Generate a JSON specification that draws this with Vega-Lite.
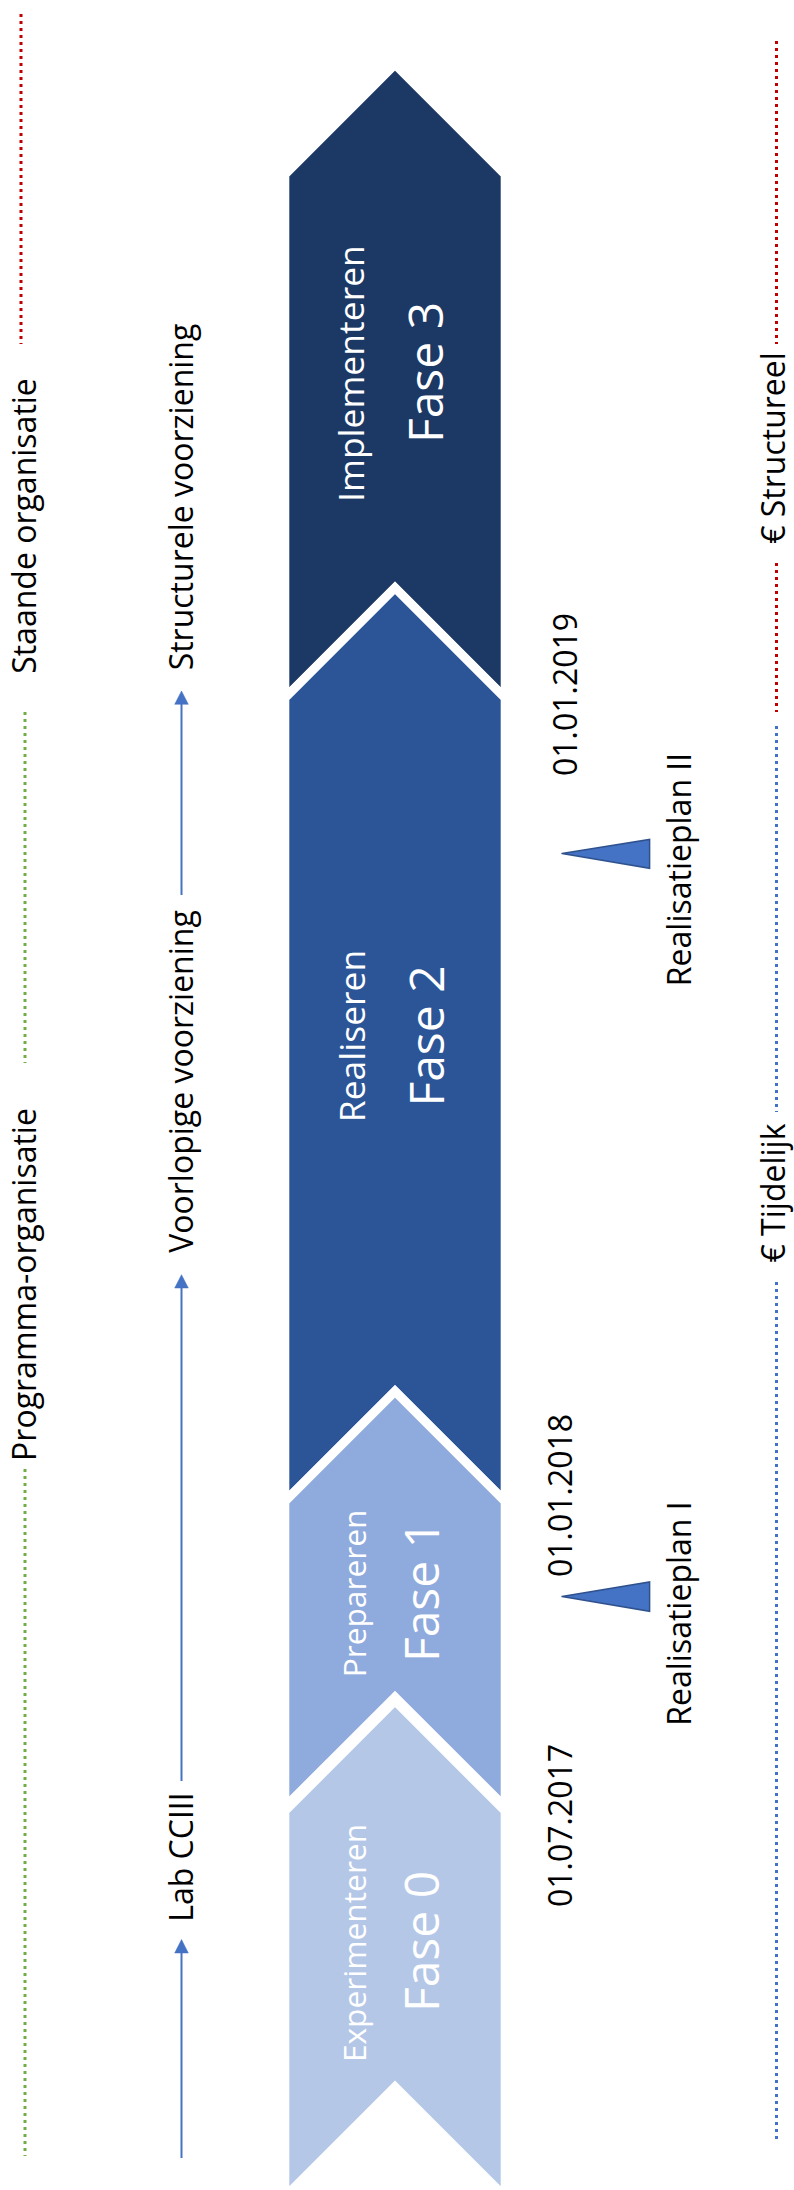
{
  "$schema": "https://vega.github.io/schema/vega-lite/v6.json",
  "width": 794,
  "height": 2190,
  "padding": 0,
  "autosize": {"type": "none"},
  "background": "#ffffff",
  "config": {"view": {"stroke": null}},
  "datasets": {
    "vormen": [
      {"fase": "Fase 3", "punt": 1, "x": 284.8, "y": 436},
      {"fase": "Fase 3", "punt": 2, "x": 284.8, "y": 174.5},
      {"fase": "Fase 3", "punt": 3, "x": 395, "y": 64.3},
      {"fase": "Fase 3", "punt": 4, "x": 505.2, "y": 174.5},
      {"fase": "Fase 3", "punt": 5, "x": 505.2, "y": 698.1},
      {"fase": "Fase 3", "punt": 6, "x": 395, "y": 587.9},
      {"fase": "Fase 3", "punt": 7, "x": 284.8, "y": 698.1},
      {"fase": "Fase 3", "punt": 8, "x": 284.8, "y": 436},
      {"fase": "Fase 2", "punt": 1, "x": 284.8, "y": 1100},
      {"fase": "Fase 2", "punt": 2, "x": 284.8, "y": 698.1},
      {"fase": "Fase 2", "punt": 3, "x": 395, "y": 587.9},
      {"fase": "Fase 2", "punt": 4, "x": 505.2, "y": 698.1},
      {"fase": "Fase 2", "punt": 5, "x": 505.2, "y": 1501.5},
      {"fase": "Fase 2", "punt": 6, "x": 395, "y": 1391.3},
      {"fase": "Fase 2", "punt": 7, "x": 284.8, "y": 1501.5},
      {"fase": "Fase 2", "punt": 8, "x": 284.8, "y": 1100},
      {"fase": "Fase 1", "punt": 1, "x": 284.8, "y": 1650},
      {"fase": "Fase 1", "punt": 2, "x": 284.8, "y": 1501.5},
      {"fase": "Fase 1", "punt": 3, "x": 395, "y": 1391.3},
      {"fase": "Fase 1", "punt": 4, "x": 505.2, "y": 1501.5},
      {"fase": "Fase 1", "punt": 5, "x": 505.2, "y": 1807.2},
      {"fase": "Fase 1", "punt": 6, "x": 395, "y": 1697},
      {"fase": "Fase 1", "punt": 7, "x": 284.8, "y": 1807.2},
      {"fase": "Fase 1", "punt": 8, "x": 284.8, "y": 1650},
      {"fase": "Fase 0", "punt": 1, "x": 284.8, "y": 2000},
      {"fase": "Fase 0", "punt": 2, "x": 284.8, "y": 1811.1},
      {"fase": "Fase 0", "punt": 3, "x": 395, "y": 1700.9},
      {"fase": "Fase 0", "punt": 4, "x": 505.2, "y": 1811.1},
      {"fase": "Fase 0", "punt": 5, "x": 505.2, "y": 2197},
      {"fase": "Fase 0", "punt": 6, "x": 395, "y": 2086.8},
      {"fase": "Fase 0", "punt": 7, "x": 284.8, "y": 2197},
      {"fase": "Fase 0", "punt": 8, "x": 284.8, "y": 2000}
    ],
    "pijlpunten": [
      {"pijl": "Structurele voorziening", "punt": 1, "x": 181.5, "y": 691},
      {"pijl": "Structurele voorziening", "punt": 2, "x": 188.3, "y": 704.3},
      {"pijl": "Structurele voorziening", "punt": 3, "x": 174.7, "y": 704.3},
      {"pijl": "Structurele voorziening", "punt": 4, "x": 181.5, "y": 691},
      {"pijl": "Voorlopige voorziening", "punt": 1, "x": 181.5, "y": 1274.7},
      {"pijl": "Voorlopige voorziening", "punt": 2, "x": 188.3, "y": 1288},
      {"pijl": "Voorlopige voorziening", "punt": 3, "x": 174.7, "y": 1288},
      {"pijl": "Voorlopige voorziening", "punt": 4, "x": 181.5, "y": 1274.7},
      {"pijl": "Lab CCIII", "punt": 1, "x": 181.5, "y": 1939.5},
      {"pijl": "Lab CCIII", "punt": 2, "x": 188.3, "y": 1953},
      {"pijl": "Lab CCIII", "punt": 3, "x": 174.7, "y": 1953},
      {"pijl": "Lab CCIII", "punt": 4, "x": 181.5, "y": 1939.5}
    ],
    "mijlpalen": [
      {"mijlpaal": "Realisatieplan II", "punt": 1, "x": 562, "y": 853.4},
      {"mijlpaal": "Realisatieplan II", "punt": 2, "x": 649.6, "y": 839.4},
      {"mijlpaal": "Realisatieplan II", "punt": 3, "x": 649.6, "y": 868.3},
      {"mijlpaal": "Realisatieplan II", "punt": 4, "x": 562, "y": 853.4},
      {"mijlpaal": "Realisatieplan I", "punt": 1, "x": 562, "y": 1596.4},
      {"mijlpaal": "Realisatieplan I", "punt": 2, "x": 649.6, "y": 1582},
      {"mijlpaal": "Realisatieplan I", "punt": 3, "x": 649.6, "y": 1611.3},
      {"mijlpaal": "Realisatieplan I", "punt": 4, "x": 562, "y": 1596.4}
    ],
    "lijnen": [
      {"naar": "Structurele voorziening", "x": 181.5, "y": 703, "y_eind": 895},
      {"naar": "Voorlopige voorziening", "x": 181.5, "y": 1287, "y_eind": 1781},
      {"naar": "Lab CCIII", "x": 181.5, "y": 1952, "y_eind": 2158}
    ],
    "stippellijnen": [
      {"lijn": "Staande organisatie", "x": 21, "y": 14, "y_eind": 344},
      {"lijn": "Programma-organisatie", "x": 25, "y": 712, "y_eind": 1063},
      {"lijn": "Programma-organisatie", "x": 25, "y": 1469, "y_eind": 2156},
      {"lijn": "€ Structureel", "x": 776.5, "y": 41, "y_eind": 344},
      {"lijn": "€ Structureel", "x": 776.5, "y": 563, "y_eind": 712},
      {"lijn": "€ Tijdelijk", "x": 776.5, "y": 726, "y_eind": 1112},
      {"lijn": "€ Tijdelijk", "x": 776.5, "y": 1282, "y_eind": 2140}
    ],
    "teksten": [
      {"tekst": "Staande organisatie", "rol": "organisatie", "x": 26, "y": 526},
      {"tekst": "Programma-organisatie", "rol": "organisatie", "x": 26, "y": 1284.5},
      {"tekst": "Structurele voorziening", "rol": "voorziening", "x": 183, "y": 497},
      {"tekst": "Voorlopige voorziening", "rol": "voorziening", "x": 183, "y": 1081.5},
      {"tekst": "Lab CCIII", "rol": "voorziening", "x": 183, "y": 1857},
      {"tekst": "01.01.2019", "rol": "datum", "x": 567, "y": 694.5},
      {"tekst": "01.01.2018", "rol": "datum", "x": 562, "y": 1495.5},
      {"tekst": "01.07.2017", "rol": "datum", "x": 562, "y": 1825.5},
      {"tekst": "Realisatieplan II", "rol": "mijlpaal", "x": 680.5, "y": 869.5},
      {"tekst": "Realisatieplan I", "rol": "mijlpaal", "x": 680.5, "y": 1613.5},
      {"tekst": "€ Structureel", "rol": "financiering", "x": 775, "y": 448},
      {"tekst": "€ Tijdelijk", "rol": "financiering", "x": 775, "y": 1193},
      {"tekst": "Implementeren", "rol": "activiteit", "x": 353, "y": 373.5},
      {"tekst": "Realiseren", "rol": "activiteit", "x": 354, "y": 1036},
      {"tekst": "Prepareren", "rol": "activiteit", "x": 355.5, "y": 1593.5},
      {"tekst": "Experimenteren", "rol": "activiteit", "x": 355.5, "y": 1943},
      {"tekst": "Fase 3", "rol": "fase", "x": 429, "y": 372.5},
      {"tekst": "Fase 2", "rol": "fase", "x": 429.5, "y": 1036},
      {"tekst": "Fase 1", "rol": "fase", "x": 425, "y": 1591.5},
      {"tekst": "Fase 0", "rol": "fase", "x": 425, "y": 1941.5}
    ]
  },
  "encoding": {
    "x": {"field": "x", "type": "quantitative", "scale": {"domain": [0, 794], "nice": false, "zero": false}, "axis": null},
    "y": {"field": "y", "type": "quantitative", "scale": {"domain": [0, 2190], "nice": false, "zero": false, "reverse": true}, "axis": null}
  },
  "layer": [
    {
      "data": {"name": "stippellijnen"},
      "mark": {"type": "rule", "strokeWidth": 3, "strokeDash": [3, 4], "strokeCap": "butt"},
      "encoding": {
        "y2": {"field": "y_eind"},
        "color": {"field": "lijn", "type": "nominal", "legend": null,
          "scale": {"domain": ["Staande organisatie", "Programma-organisatie", "€ Structureel", "€ Tijdelijk"],
                    "range": ["#C00000", "#70AD47", "#C00000", "#4472C4"]}}
      }
    },
    {
      "data": {"name": "lijnen"},
      "mark": {"type": "rule", "strokeWidth": 2, "color": "#4472C4"},
      "encoding": {"y2": {"field": "y_eind"}}
    },
    {
      "data": {"name": "pijlpunten"},
      "mark": {"type": "line", "fill": "#4472C4", "stroke": "#4472C4", "strokeWidth": 0.5, "strokeJoin": "miter"},
      "encoding": {
        "detail": {"field": "pijl", "type": "nominal"},
        "order": {"field": "punt", "type": "quantitative"}
      }
    },
    {
      "data": {"name": "vormen"},
      "mark": {"type": "line", "stroke": "#ffffff", "strokeWidth": 9, "strokeJoin": "miter", "strokeMiterLimit": 10},
      "encoding": {
        "fill": {"field": "fase", "type": "nominal", "legend": null,
          "scale": {"domain": ["Fase 3", "Fase 2", "Fase 1", "Fase 0"],
                    "range": ["#1C3864", "#2B5597", "#8FAADC", "#B4C7E7"]}},
        "detail": {"field": "fase", "type": "nominal"},
        "order": {"field": "punt", "type": "quantitative"}
      }
    },
    {
      "data": {"name": "mijlpalen"},
      "mark": {"type": "line", "fill": "#4472C4", "stroke": "#2F528F", "strokeWidth": 1.5, "strokeJoin": "miter", "strokeCap": "round"},
      "encoding": {
        "detail": {"field": "mijlpaal", "type": "nominal"},
        "order": {"field": "punt", "type": "quantitative"}
      }
    },
    {
      "data": {"name": "teksten"},
      "transform": [{"filter": {"field": "rol", "oneOf": ["organisatie", "voorziening", "datum", "mijlpaal", "financiering"]}}],
      "mark": {"type": "text", "angle": 270, "align": "center", "baseline": "middle", "font": "Open Sans", "fontSize": 32, "color": "#000000"},
      "encoding": {"text": {"field": "tekst"}}
    },
    {
      "data": {"name": "teksten"},
      "transform": [{"filter": {"field": "tekst", "oneOf": ["Implementeren", "Realiseren"]}}],
      "mark": {"type": "text", "angle": 270, "align": "center", "baseline": "middle", "font": "Open Sans", "fontSize": 35.5, "color": "#ffffff"},
      "encoding": {"text": {"field": "tekst"}}
    },
    {
      "data": {"name": "teksten"},
      "transform": [{"filter": {"field": "tekst", "oneOf": ["Prepareren", "Experimenteren"]}}],
      "mark": {"type": "text", "angle": 270, "align": "center", "baseline": "middle", "font": "Open Sans", "fontSize": 31.7, "color": "#ffffff"},
      "encoding": {"text": {"field": "tekst"}}
    },
    {
      "data": {"name": "teksten"},
      "transform": [{"filter": {"field": "rol", "equal": "fase"}}],
      "mark": {"type": "text", "angle": 270, "align": "center", "baseline": "middle", "font": "Open Sans", "fontSize": 48, "color": "#ffffff"},
      "encoding": {"text": {"field": "tekst"}}
    }
  ]
}
